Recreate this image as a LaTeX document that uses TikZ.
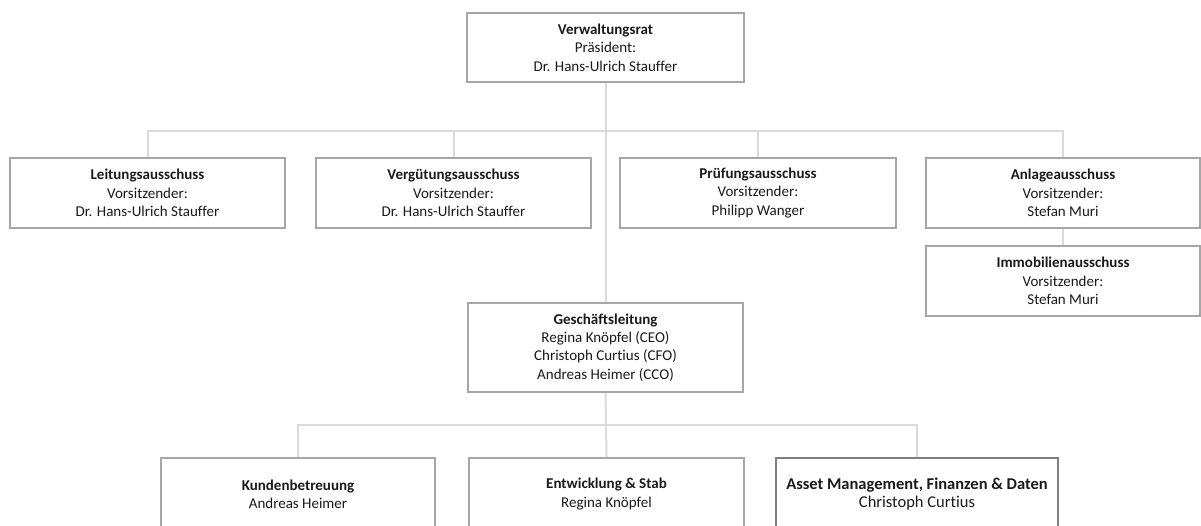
\documentclass[tikz,border=0pt]{standalone}
\usepackage{fontspec}
\setmainfont{Carlito}[Ligatures={NoCommon}]
\definecolor{boxgray}{HTML}{A6A6A6}
\definecolor{boxdark}{HTML}{7F7F7F}
\definecolor{linegray}{HTML}{D9D9D9}
\definecolor{txt}{HTML}{1A1A1A}
\tikzset{
  orgbox/.style={draw=boxgray, line width=2pt, fill=white, minimum width=275pt, minimum height=70pt,
    inner sep=0pt, align=center, text=txt, font=\fontsize{15}{18.3}\selectfont},
  conn/.style={draw=linegray, line width=2pt}
}
\begin{document}
\begin{tikzpicture}[x=1pt,y=1pt]
\useasboundingbox (0,0) rectangle (1201,-525);
\clip (0,0) rectangle (1201,-525);
\fill[white] (0,0) rectangle (1201,-525);
\coordinate (b1) at (606,-131);
\coordinate (b2) at (606,-425);
% nodes
\node[orgbox, minimum width=277pt, minimum height=69pt] (vr) at (605.5,-47.5) {\textbf{Verwaltungsrat}\\Präsident:\\Dr. Hans-Ulrich Stauffer};
\node[orgbox] (leit) at (147.5,-193) {\textbf{Leitungsausschuss}\\Vorsitzender:\\Dr. Hans-Ulrich Stauffer};
\node[orgbox] (verg) at (453.5,-193) {\textbf{Vergütungsausschuss}\\Vorsitzender:\\Dr. Hans-Ulrich Stauffer};
\node[orgbox, minimum width=276pt] (pruef) at (758,-193) {\textbf{Prüfungsausschuss}\\Vorsitzender:\\Philipp Wanger};
\node[orgbox, minimum width=274pt] (anl) at (1063,-193) {\textbf{Anlageausschuss}\\Vorsitzender:\\Stefan Muri};
\node[orgbox, minimum width=274pt] (immo) at (1063,-281) {\textbf{Immobilienausschuss}\\Vorsitzender:\\Stefan Muri};
\node[orgbox, minimum height=89pt] (gl) at (605.5,-347.5) {\textbf{Geschäftsleitung}\\Regina Knöpfel (CEO)\\Christoph Curtius (CFO)\\Andreas Heimer (CCO)};
\node[orgbox, minimum width=274pt, minimum height=72pt] (kund) at (298,-494) {\textbf{Kundenbetreuung}\\Andreas Heimer};
\node[orgbox, minimum height=72pt] (entw) at (606.5,-494) {\textbf{Entwicklung \& Stab}\\Regina Knöpfel};
\node[orgbox, draw=boxdark, line width=2.5pt, minimum width=282pt, minimum height=72pt, font=\fontsize{16.5}{18.3}\selectfont] (asset) at (917,-494) {\textbf{Asset Management, Finanzen \& Daten}\\Christoph Curtius};
% connectors
\draw[conn] (vr.south) -- (gl.north);
\draw[conn] (leit.north) |- (b1) -| (anl.north);
\draw[conn] (verg.north) -- (verg.north |- b1);
\draw[conn] (pruef.north) -- (pruef.north |- b1);
\draw[conn] (anl.south) -- (immo.north);
\draw[conn] (gl.south) -- (entw.north);
\draw[conn] (kund.north) |- (b2) -| (asset.north);
\end{tikzpicture}
\end{document}
